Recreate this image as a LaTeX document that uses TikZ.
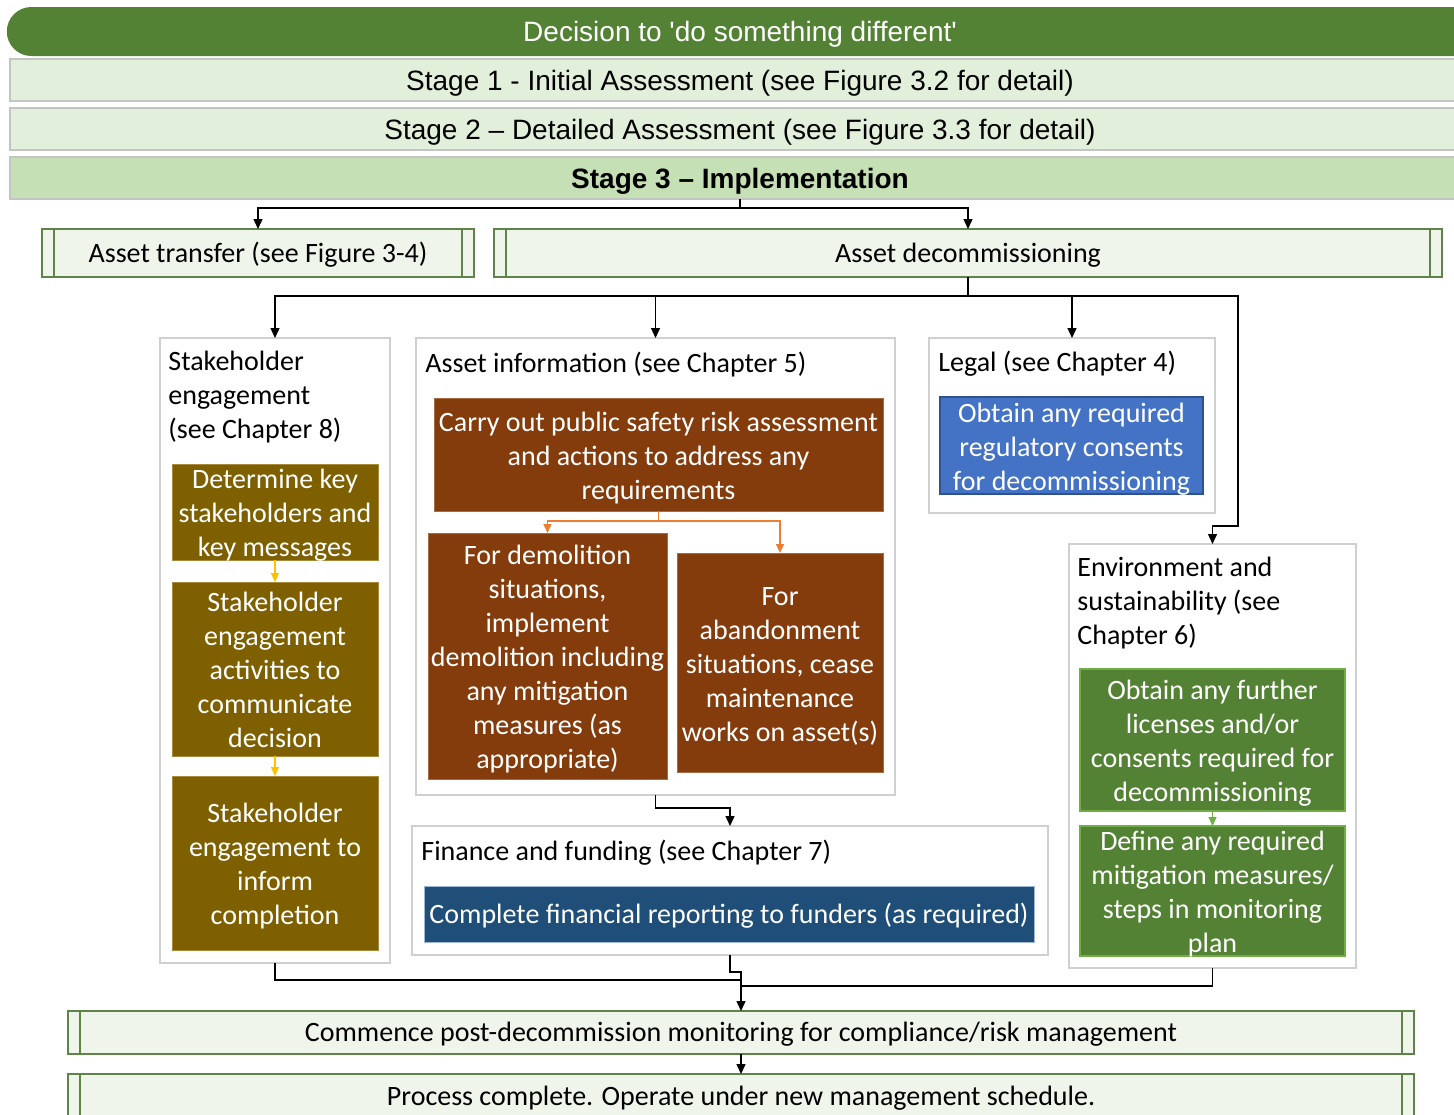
\documentclass[tikz,border=0pt]{standalone}
\usepackage{fontspec}
\setmainfont{Carlito}
\newfontfamily\arialfont{Liberation Sans}
\usetikzlibrary{arrows.meta,shapes.misc}

% taller first line for the multi-line step boxes
\newcommand{\tallstart}{\rule{0pt}{14pt}}

\definecolor{bannergreen}{HTML}{548235}
\definecolor{stagefill}{HTML}{E2EFDA}
\definecolor{stagethree}{HTML}{C5E0B4}
\definecolor{stageline}{HTML}{C4C4C4}
\definecolor{procfill}{HTML}{EFF5EA}
\definecolor{procline}{HTML}{5F8448}
\definecolor{groupline}{HTML}{D0D0D0}
\definecolor{olivefill}{HTML}{7F6000}
\definecolor{oliveline}{HTML}{A88A3A}
\definecolor{yellowarrow}{HTML}{FFC000}
\definecolor{brownfill}{HTML}{843C0C}
\definecolor{brownline}{HTML}{A86A40}
\definecolor{orangearrow}{HTML}{ED7D31}
\definecolor{bluefill}{HTML}{4472C4}
\definecolor{blueline}{HTML}{2F528F}
\definecolor{navyfill}{HTML}{1F4E79}
\definecolor{navyline}{HTML}{9DB8D2}
\definecolor{greenline}{HTML}{70AD47}

\begin{document}
\begin{tikzpicture}[x=0.5pt, y=-0.5pt,
  font=\fontsize{14}{17}\selectfont,
  % fixed height and depth keep one-line text evenly placed in its box
  evenlines/.style={execute at begin node={\rule{0pt}{#1}},
    execute at end node={\rule[-3.5pt]{0pt}{3.5pt}}},
  rect/.style n args={4}{inner sep=0pt, outer sep=0pt, align=center, evenlines=12.5pt,
    minimum width={(#3-#1)*0.5pt}, minimum height={(#4-#2)*0.5pt},
    at={({(#1+#3)/2},{(#2+#4)/2})}},
  % step boxes keep their set height even when the lines fill them
  stepfill/.style={inner ysep=-8pt, text=white},
  stagebox/.style={draw=stageline, fill=stagefill, line width=0.6pt, evenlines=13.5pt,
    font=\arialfont\fontsize{14}{17}\selectfont},
  procbox/.style={draw=procline, fill=procfill, line width=0.6pt},
  groupbox/.style={draw=groupline, line width=0.7pt},
  heading/.style={anchor=base west, inner sep=0pt, align=left},
  olivebox/.style={fill=olivefill, draw=oliveline, line width=0.5pt, stepfill},
  brownbox/.style={fill=brownfill, draw=brownline, line width=0.5pt, stepfill},
  bluebox/.style={fill=bluefill, draw=blueline, line width=0.6pt, stepfill},
  navybox/.style={fill=navyfill, draw=navyline, line width=0.5pt, text=white},
  greenbox/.style={fill=bannergreen, draw=greenline, line width=0.6pt, stepfill},
  wire/.style={draw=black, line width=0.7pt},
  arr/.style={wire, -{Triangle[length=5pt,width=4.5pt]}},
  oarr/.style={draw=orangearrow, line width=0.7pt, -{Triangle[length=4.5pt,width=4pt]}},
  yarr/.style={draw=yellowarrow, line width=0.7pt, -{Triangle[length=4.5pt,width=4pt]}},
  garr/.style={draw=greenline, line width=0.7pt, -{Triangle[length=4.5pt,width=4pt]}}]

\useasboundingbox (0,0) rectangle (1454,1114);
\clip (0,0) rectangle (1454,1114);

% decision banner and the three stages
\node[rounded rectangle, rounded rectangle east arc=none, fill=bannergreen, text=white,
  font=\arialfont\fontsize{14}{17}\selectfont, evenlines=13pt,
  minimum width=730pt, minimum height=24.5pt, inner sep=0pt] (dec) at (740,31.5)
  {Decision to \textquotesingle do something different\textquotesingle};
\node[rect={10}{59}{1470}{101}, stagebox] (s1) {Stage 1 - Initial Assessment (see Figure 3.2 for detail)};
\node[rect={10}{108}{1470}{150}, stagebox] (s2) {Stage 2 \textendash{} Detailed Assessment (see Figure 3.3 for detail)};
\node[rect={10}{157}{1470}{199}, stagebox, fill=stagethree,
  font=\arialfont\bfseries\fontsize{14}{17}\selectfont] (s3) {Stage 3 \textendash{} Implementation};

% transfer / decommissioning
\node[procbox, rect={42}{229}{474}{277}] (at) {Asset transfer (see Figure 3-4)};
\node[procbox, rect={494}{229}{1442}{277}] (ad) {Asset decommissioning};

% workstream groups
\node[groupbox, rect={160}{338}{390}{963}] (sh) {};
\node[groupbox, rect={416}{338}{895}{795}] (ai) {};
\node[groupbox, rect={929}{338}{1215}{513}] (lg) {};
\node[groupbox, rect={1069}{544}{1356}{968}] (env) {};
\node[groupbox, rect={412}{826}{1048}{955}] (fin) {};

% headings (base = baseline of the last line)
\node[heading] (shT) at (168,438) {Stakeholder\\engagement\\(see Chapter 8)};
\node[heading] (aiT) at (425,372) {Asset information (see Chapter 5)};
\node[heading] (lgT) at (938,371) {Legal (see Chapter 4)};
\node[heading] (envT) at (1077,644) {Environment and\\sustainability (see\\Chapter 6)};
\node[heading] (finT) at (421,860) {Finance and funding (see Chapter 7)};

% stakeholder steps
\node[rect={172}{464}{378}{560}, olivebox] (det) {\tallstart Determine key\\stakeholders and\\key messages};
\node[rect={172}{582}{378}{756}, olivebox] (act) {\tallstart Stakeholder\\engagement\\activities to\\communicate\\decision};
\node[rect={172}{776}{378}{950}, olivebox] (inf) {\tallstart Stakeholder\\engagement to\\inform\\completion};

% asset information steps
\node[rect={434}{398}{883}{511}, brownbox] (car) {\tallstart Carry out public safety risk assessment\\and actions to address any\\requirements};
\node[rect={428}{533}{667}{779}, brownbox] (dem) {\tallstart For demolition\\situations,\\implement\\demolition including\\any mitigation\\measures (as\\appropriate)};
\node[rect={677}{553}{883}{772}, brownbox] (abn) {\tallstart For\\abandonment\\situations, cease\\maintenance\\works on asset(s)};

% legal, environment, finance steps
\node[rect={940}{397}{1203}{494}, bluebox] (reg) {\tallstart Obtain any required\\regulatory consents\\for decommissioning};
\node[rect={1080}{669}{1345}{811}, greenbox] (lic) {\tallstart Obtain any further\\licenses and/or\\consents required for\\decommissioning};
\node[rect={1080}{826}{1345}{956}, greenbox] (mit) {\tallstart Define any required\\mitigation measures/\\steps in monitoring\\plan};
\node[rect={424}{886}{1034}{942}, navybox] (rep) {Complete financial reporting to funders (as required)};

% closing steps
\node[procbox, rect={68}{1011}{1414}{1054}] (cm) {Commence post-decommission monitoring for compliance/risk management};
\node[procbox, rect={68}{1074}{1414}{1118}] (pc) {Process complete. Operate under new management schedule.};

% side bars of the process boxes
\foreach \n in {at,ad,cm,pc} {
  \draw[draw=procline, line width=0.6pt] ([xshift=6pt]\n.north west) -- ([xshift=6pt]\n.south west);
  \draw[draw=procline, line width=0.6pt] ([xshift=-6pt]\n.north east) -- ([xshift=-6pt]\n.south east);
}

% bus levels
\coordinate (yA) at (0,208);
\coordinate (yB) at (0,296);
\coordinate (envturn) at (1238,526);
\coordinate (yC) at (0,521);
\coordinate (yD) at (0,808);
\coordinate (yE) at (0,980);
\coordinate (yF) at (0,972);
\coordinate (yG) at (0,986);

% connectors
\draw[arr] (s3.south) -- (s3.south |- yA) -| (at.north);
\draw[arr] (s3.south |- yA) -| (ad.north);

\draw[arr] (ad.south) -- (ad.south |- yB) -| (sh.north);
\draw[arr] (ad.south |- yB) -| (ai.north);
\draw[arr] (ad.south |- yB) -| (lg.north);
\draw[arr] (ad.south |- yB) -| (envturn) -| (env.north);

\draw[oarr] (car.south) -- (car.south |- yC) -| (dem.north);
\draw[oarr] (car.south |- yC) -| (abn.north);

\draw[yarr] (det.south) -- (act.north);
\draw[yarr] (act.south) -- (inf.north);
\draw[garr] (lic.south) -- (mit.north);

\draw[arr] (ai.south) -- (ai.south |- yD) -| (fin.north);

\draw[wire] (sh.south) |- (cm.north |- yE);
\draw[wire] (env.south) |- (cm.north |- yG);
\draw[arr] (fin.south) -- (fin.south |- yF) -| (cm.north);
\draw[arr] (cm.south) -- (pc.north);

\end{tikzpicture}
\end{document}
